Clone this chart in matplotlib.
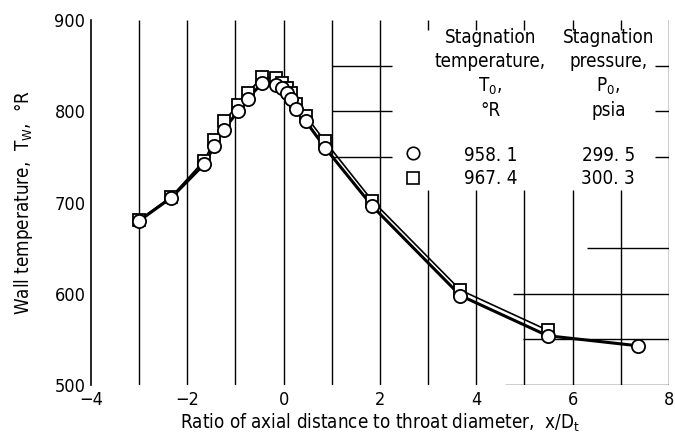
import matplotlib
matplotlib.use("Agg")
import matplotlib.pyplot as plt

plt.rcParams['font.family'] = ['DejaVu Sans']
plt.rcParams['font.stretch'] = 'condensed'
plt.rcParams['mathtext.fontset'] = 'custom'
plt.rcParams['mathtext.rm'] = 'DejaVu Sans:stretch=condensed'
plt.rcParams['mathtext.it'] = 'DejaVu Sans:stretch=condensed'

# wall temperature data, T0 = 958.1 R (circles) and 967.4 R (squares)
x_circ = [-3.0, -2.34, -1.65, -1.44, -1.24, -0.95, -0.75, -0.44, -0.15, -0.03,
          0.06, 0.15, 0.25, 0.46, 0.86, 1.84, 3.67, 5.48, 7.35]
t_circ = [680, 705, 742, 762, 780, 800, 814, 831, 829, 825,
          820, 814, 802, 789, 760, 696, 598, 554, 543]
x_sq = [-3.0, -2.34, -1.65, -1.44, -1.24, -0.95, -0.75, -0.44, -0.15, -0.03,
        0.06, 0.15, 0.25, 0.46, 0.86, 1.84, 3.67, 5.48]
t_sq = [681, 706, 746, 768, 789, 807, 820, 838, 836, 831,
        826, 820, 808, 795, 767, 702, 604, 560]

legend_t0 = ['958. 1', '967. 4']
legend_p0 = ['299. 5', '300. 3']

fs = 13.5

fig = plt.figure(figsize=(6.75, 4.36), dpi=100)
ax = fig.add_axes([0.1348, 0.117, 0.8563, 0.837])
ax.set_xlim(-4, 8)
ax.set_ylim(500, 900)

# partial grid like the original graph paper
k = dict(color='black', lw=1.0, zorder=1)
ax.vlines([-3, -2, -1, 0, 1, 2], 500, 900, **k)
ax.vlines([3, 4, 5, 6, 7], 500, 714, **k)
ax.vlines([3, 4, 5, 6, 7], 889, 900, **k)
ax.vlines([8], 500, 905, **k)
ax.hlines([850, 800, 750], 1, 2.25, **k)
ax.hlines([850, 800, 750], 7.71, 8, **k)
ax.hlines([650], 6.3, 8, **k)
ax.hlines([600], 4.77, 8, **k)
ax.hlines([550], 4.97, 8, **k)
ax.hlines([500], 4.6, 8, **k)
ax.hlines([905], 6.0, 8, **k)

ax.plot(x_sq, t_sq, color='black', lw=1.2, zorder=2)
ax.plot(x_circ, t_circ, color='black', lw=2.2, zorder=2)
ax.plot(x_sq, t_sq, ls='none', marker='s', ms=9, mfc='white', mec='black', mew=1.3, zorder=3)
ax.plot(x_circ, t_circ, ls='none', marker='o', ms=9.5, mfc='white', mec='black', mew=1.3, zorder=4)

for s in ['top', 'right', 'bottom']:
    ax.spines[s].set_visible(False)
ax.spines['left'].set_linewidth(1.2)

ax.set_xticks(range(-4, 9, 2))
ax.set_xticklabels(['\u22124', '\u22122', '0', '2', '4', '6', '8'])
ax.set_yticks(range(500, 901, 100))
ax.tick_params(length=0, labelsize=13, pad=4)

ax.set_xlabel('Ratio of axial distance to throat diameter,  x/D$_\\mathrm{t}$', fontsize=fs, labelpad=2)
ax.set_ylabel('Wall temperature,  T$_\\mathrm{W}$,  \u00b0R', fontsize=fs, labelpad=14)

# key table
ax.text(4.29, 891, 'Stagnation\ntemperature,\nT$_0$,\n\u00b0R', ha='center', va='top',
        fontsize=fs, linespacing=1.3)
ax.text(6.74, 891, 'Stagnation\npressure,\nP$_0$,\npsia', ha='center', va='top',
        fontsize=fs, linespacing=1.3)
ax.plot([2.69], [754], marker='o', ms=9, mfc='white', mec='black', mew=1.2)
ax.plot([2.69], [727], marker='s', ms=8.5, mfc='white', mec='black', mew=1.2)
for i, yv in enumerate([752, 726]):
    ax.text(4.29, yv, legend_t0[i], ha='center', va='center', fontsize=fs)
    ax.text(6.74, yv, legend_p0[i], ha='center', va='center', fontsize=fs)

fig.savefig('out.png', dpi=100)
